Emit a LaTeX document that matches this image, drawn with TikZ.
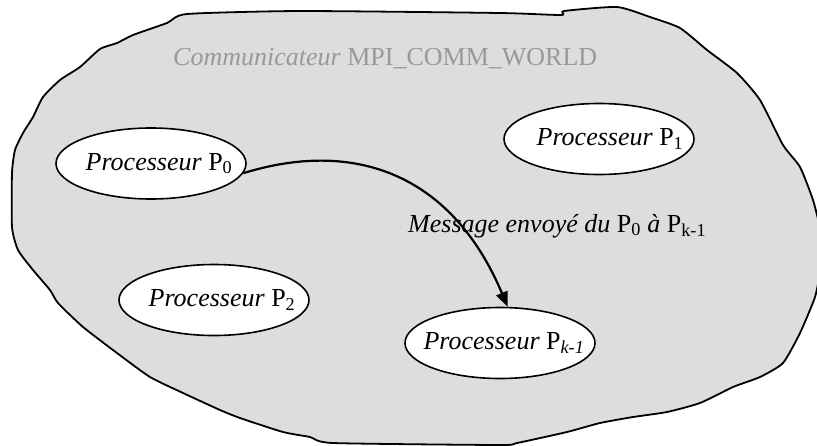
\documentclass[tikz,border=0pt]{standalone}
\usepackage{fontspec}
\setmainfont{Liberation Serif}
\usetikzlibrary{arrows.meta,shapes.geometric}
\definecolor{blobfill}{HTML}{DDDDDD}
\definecolor{titlegray}{HTML}{999999}
\newcommand{\proctext}[2]{\makebox[0pt]{\hspace*{#1}#2}}
\begin{document}
\begin{tikzpicture}[x=1pt,y=-1pt,
  proc/.style={ellipse,draw=black,fill=white,line width=1.6pt,minimum width=190pt,minimum height=71pt,inner sep=0pt,font=\fontsize{26}{30}\selectfont},
  lbl/.style={font=\fontsize{26}{30}\selectfont,inner sep=0pt},
  msgarrow/.style={line width=2.2pt,-{Triangle[length=15pt,width=12pt]}}
]
\useasboundingbox (0,0) rectangle (817,445);
\draw[fill=blobfill,line width=1.8pt,line join=round]
  plot[smooth cycle,tension=0.35] coordinates {
  (187,14) (300,11) (500,13) (561,15) (564,11) (617,7) (650,17) (680,28) (707,50) (737,73) (760,100) (783,145) (800,167) (813,200) (820,230) (820,270) (815,297) (800,333) (783,363) (760,377) (733,387) (700,403) (667,412) (633,417) (600,423) (567,432) (517,443) (500,445) (333,443) (310,437) (283,432) (240,418) (220,410) (183,393) (150,377) (117,353) (83,327) (58,303) (50,290) (33,270) (18,250) (12,227) (12,173) (15,150) (23,133) (33,117) (43,97) (60,80) (80,67) (100,49) (117,43) (133,35) (167,23)};
\node[lbl,anchor=base west,text=titlegray] (title) at (173,65) {\textit{Communicateur} MPI\_COMM\_WORLD};
\node[proc] (p0) at (151,163.5) {\proctext{16pt}{\textit{Processeur} P\textsubscript{0}}};
\node[proc] (p1) at (599,139) {\proctext{22pt}{\textit{Processeur} P\textsubscript{1}}};
\node[proc] (p2) at (214,300) {\proctext{16pt}{\textit{Processeur} P\textsubscript{2}}};
\node[proc] (pk) at (500,343) {\proctext{8pt}{\textit{Processeur} P\textsubscript{\textit{k-1}}}};
\node[lbl,anchor=base west] (msg) at (408,232) {\textit{Message envoyé du} P\textsubscript{0} \textit{à} P\textsubscript{k-1}};
\draw[msgarrow] (p0.-6) .. controls (350,140) and (450,170) .. (pk.78);
\end{tikzpicture}
\end{document}
